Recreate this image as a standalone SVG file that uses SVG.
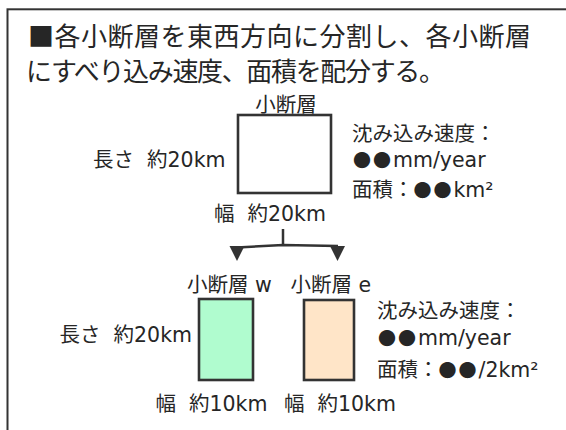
<svg xmlns="http://www.w3.org/2000/svg" width="566" height="430" viewBox="0 0 566 430">
<defs>
<style>
text{font-family:"DejaVu Sans","Noto Sans CJK JP",sans-serif;fill:#262626;}
.t{font-family:"Noto Sans CJK JP",sans-serif;font-size:26px;}
.s{font-size:20.5px;}
.c{font-family:"Noto Sans CJK JP",sans-serif;}
.d{font-family:"Noto Sans CJK JP",sans-serif;font-size:18px;letter-spacing:2px;}
.box{stroke:#333;stroke-width:2.6;}
.conn{fill:none;stroke:#333;stroke-width:2.5;}
.ah{fill:#333;}
</style>
</defs>
<rect x="7.5" y="9.3" width="600" height="450" fill="#fff" stroke="#333" stroke-width="2"/>
<g id="title">
<text class="t" x="28" y="46" textLength="503" lengthAdjust="spacing">■各小断層を東西方向に分割し、各小断層</text>
<text class="t" x="26" y="81" textLength="419" lengthAdjust="spacing">にすべり込み速度、面積を配分する。</text>
</g>
<g id="fault">
<text class="s c" x="286" y="112" text-anchor="middle">小断層</text>
<rect class="box" x="238" y="115" width="93" height="78" fill="#fff"/>
<text class="s" x="225.5" y="167" text-anchor="end" xml:space="preserve">長さ  約20km</text>
<text class="s" x="214" y="221" xml:space="preserve">幅  約20km</text>
<text class="s c" x="352" y="141">沈み込み速度：</text>
<text class="s" x="353" y="166.5"><tspan class="d">●●</tspan>mm/year</text>
<text class="s" x="352" y="197">面積：<tspan class="d">●●</tspan>km²</text>
</g>
<g id="connectors">
<path class="conn" d="M283,229 V245"/>
<path class="conn" d="M283,245 L237,247.5 M283,245 L338,246"/>
<path class="ah" d="M229.5,246 L244.5,246 L237,261 z"/>
<path class="ah" d="M330,246 L345,246 L337.5,261 z"/>
</g>
<g id="fault-w">
<text class="s" x="187" y="292"><tspan class="c">小断層</tspan> w</text>
<rect class="box" x="199" y="299" width="54" height="81" fill="#b0fccf"/>
</g>
<g id="fault-e">
<text class="s" x="290.5" y="292"><tspan class="c">小断層</tspan> e</text>
<rect class="box" x="304" y="300" width="50" height="80" fill="#ffe5c8"/>
</g>
<g id="labels-lower">
<text class="s" x="192" y="342" text-anchor="end" xml:space="preserve">長さ  約20km</text>
<text class="s" x="155.5" y="411" xml:space="preserve">幅  約10km</text>
<text class="s" x="284" y="411" xml:space="preserve">幅  約10km</text>
<text class="s c" x="377" y="318">沈み込み速度：</text>
<text class="s" x="378" y="344.5"><tspan class="d">●●</tspan>mm/year</text>
<text class="s" x="377" y="377">面積：<tspan class="d">●●</tspan>/2km²</text>
</g>
</svg>
